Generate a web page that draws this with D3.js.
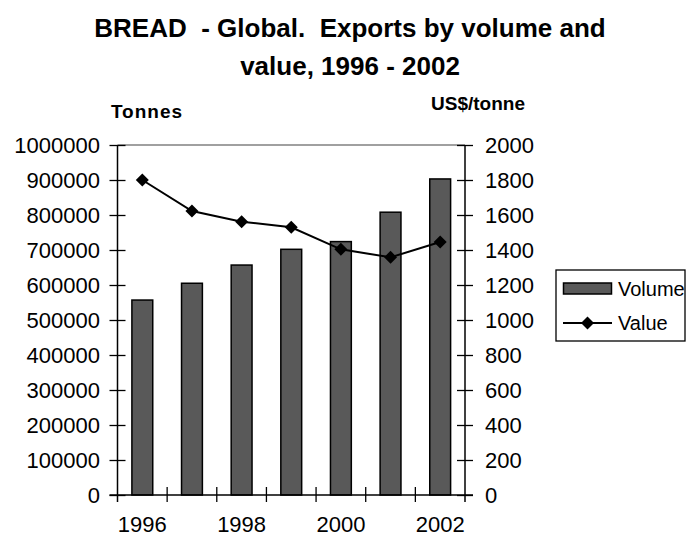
<html>
<head>
<script src="https://d3js.org/d3.v7.min.js"></script>
<style>
    body { margin: 0; background: #fff; }
    text { font-family: "Liberation Sans", Arial, sans-serif; fill: #000; }
</style>
</head>
<body>
<div id="chart"></div>
<script>
const years = ["1996", "1997", "1998", "1999", "2000", "2001", "2002"];
const yearLabels = ["1996", "1998", "2000", "2002"];
const volume = [557000, 605000, 657000, 702000, 724000, 808000, 903000];
const value = [1800, 1623, 1562, 1530, 1404, 1358, 1446];
const titleLines = ["BREAD  - Global.  Exports by volume and", "value, 1996 - 2002"];

const width = 686, height = 538;
const plotLeft = 117.5, plotRight = 465, plotTop = 145, plotBottom = 495;

const svg = d3.select('#chart').append('svg')
    .attr('width', width)
    .attr('height', height);

const x = d3.scaleBand()
    .domain(years)
    .range([plotLeft, plotRight])
    .paddingInner(0.58)
    .paddingOuter(0.29);
const yL = d3.scaleLinear().domain([0, 1000000]).range([plotBottom, plotTop]);
const yR = d3.scaleLinear().domain([0, 2000]).range([plotBottom, plotTop]);

// title
svg.append('g').selectAll('text')
    .data(titleLines)
    .enter().append('text')
        .attr('x', 350)
        .attr('y', (d, i) => 37 + i * 38)
        .attr('text-anchor', 'middle')
        .attr('font-size', 26)
        .attr('font-weight', 'bold')
        .style('white-space', 'pre')
        .text(d => d);

svg.append('text')
    .attr('x', 147).attr('y', 118)
    .attr('text-anchor', 'middle')
    .attr('font-size', 19).attr('font-weight', 'bold')
    .attr('letter-spacing', 1)
    .text('Tonnes');
svg.append('text')
    .attr('x', 478).attr('y', 110)
    .attr('text-anchor', 'middle')
    .attr('font-size', 19).attr('font-weight', 'bold')
    .text('US$/tonne');

// plot area top border
svg.append('line')
    .attr('x1', plotLeft).attr('x2', plotRight)
    .attr('y1', plotTop).attr('y2', plotTop)
    .attr('stroke', '#808080').attr('stroke-width', 1.5);

// bars
svg.selectAll('.bar')
    .data(volume)
    .enter().append('rect')
        .attr('class', 'bar')
        .attr('x', (d, i) => x(years[i]))
        .attr('y', d => yL(d))
        .attr('width', x.bandwidth())
        .attr('height', d => plotBottom - yL(d))
        .attr('fill', '#595959')
        .attr('stroke', '#000')
        .attr('stroke-width', 1.5);

// axes
const leftAxis = svg.append('g')
    .attr('transform', `translate(${plotLeft},0)`)
    .call(d3.axisLeft(yL).ticks(10).tickSize(8).tickPadding(9.5).tickFormat(d3.format('d')));
const rightAxis = svg.append('g')
    .attr('transform', `translate(${plotRight},0)`)
    .call(d3.axisRight(yR).ticks(10).tickSize(8).tickPadding(12).tickFormat(d3.format('d')));
[leftAxis, rightAxis].forEach(a => {
    a.select('.domain').remove();
    a.selectAll('.tick line').attr('stroke', '#000').attr('stroke-width', 1.3);
    a.selectAll('.tick text').attr('font-size', 22).attr('font-family', null);
});
leftAxis.selectAll('.tick line').attr('x1', 8);
rightAxis.selectAll('.tick line').attr('x1', -8);

const bottomAxis = svg.append('g')
    .attr('transform', `translate(0,${plotBottom})`)
    .call(d3.axisBottom(x).tickValues(yearLabels).tickSize(0).tickPadding(21));
bottomAxis.select('.domain').remove();
bottomAxis.selectAll('.tick text').attr('font-size', 22).attr('font-family', null);

// category boundary ticks
svg.append('g').selectAll('line')
    .data(years.slice(1))
    .enter().append('line')
        .attr('x1', d => x(d) - x.step() * x.paddingInner() / 2)
        .attr('x2', d => x(d) - x.step() * x.paddingInner() / 2)
        .attr('y1', plotBottom - 8).attr('y2', plotBottom + 7)
        .attr('stroke', '#000').attr('stroke-width', 1.3);

// axis lines
svg.append('line').attr('x1', plotLeft).attr('x2', plotLeft).attr('y1', plotTop).attr('y2', plotBottom + 7)
    .attr('stroke', '#000').attr('stroke-width', 1.5);
svg.append('line').attr('x1', plotRight).attr('x2', plotRight).attr('y1', plotTop).attr('y2', plotBottom + 7)
    .attr('stroke', '#000').attr('stroke-width', 1.5);
svg.append('line').attr('x1', plotLeft - 8).attr('x2', plotRight + 8).attr('y1', plotBottom).attr('y2', plotBottom)
    .attr('stroke', '#000').attr('stroke-width', 1.5);

// value line
const line = d3.line()
    .x((d, i) => x(years[i]) + x.bandwidth() / 2)
    .y(d => yR(d));
svg.append('path')
    .datum(value)
    .attr('d', line)
    .attr('fill', 'none')
    .attr('stroke', '#000')
    .attr('stroke-width', 2);

const diamond = 'M0,-6.5L6.5,0L0,6.5L-6.5,0Z';
svg.selectAll('.marker')
    .data(value)
    .enter().append('path')
        .attr('class', 'marker')
        .attr('d', diamond)
        .attr('transform', (d, i) => `translate(${x(years[i]) + x.bandwidth() / 2},${yR(d)})`)
        .attr('fill', '#000');

// legend
const legend = svg.append('g');
legend.append('rect')
    .attr('x', 556).attr('y', 270)
    .attr('width', 129).attr('height', 71)
    .attr('fill', '#fff').attr('stroke', '#000').attr('stroke-width', 1.3);
legend.append('rect')
    .attr('x', 563.5).attr('y', 283)
    .attr('width', 48).attr('height', 11)
    .attr('fill', '#595959').attr('stroke', '#000').attr('stroke-width', 1.5);
legend.append('text')
    .attr('x', 618).attr('y', 296)
    .attr('font-size', 20)
    .text('Volume');
legend.append('line')
    .attr('x1', 563).attr('x2', 612).attr('y1', 323).attr('y2', 323)
    .attr('stroke', '#000').attr('stroke-width', 2);
legend.append('path')
    .attr('d', diamond)
    .attr('transform', 'translate(587.5,323)')
    .attr('fill', '#000');
legend.append('text')
    .attr('x', 618).attr('y', 330)
    .attr('font-size', 20)
    .text('Value');
</script>
</body>
</html>
